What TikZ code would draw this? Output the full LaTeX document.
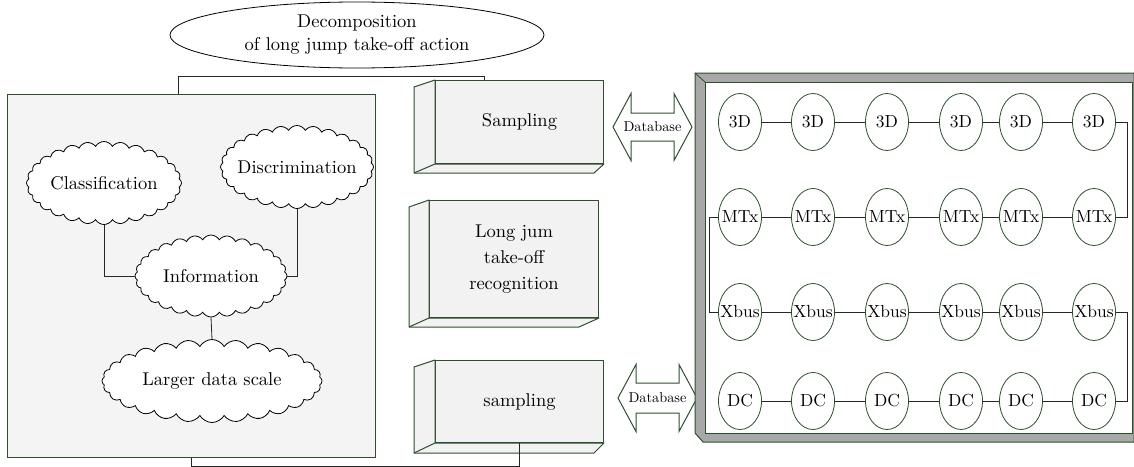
\documentclass[tikz,border=0pt]{standalone}
\usepackage{fontspec}
\setmainfont{lmroman10-regular}[Extension=.otf]
\usetikzlibrary{shapes.symbols,shapes.geometric,calc}
\definecolor{dg}{HTML}{2E4F2E}
\definecolor{panel}{HTML}{F4F4F4}
\definecolor{boxfill}{HTML}{F2F2F2}
\definecolor{framegray}{HTML}{A8A8A8}
\newcommand{\zbox}[1]{\makebox[0pt]{#1}}
\begin{document}
\begin{tikzpicture}[x=1pt,y=-1pt,
  main/.style={font=\fontsize{18.5}{24}\selectfont},
  cl/.style={cloud, cloud puffs=28, cloud puff arc=120, draw=black, fill=white, line width=0.8pt, main, inner sep=0pt},
  bn/.style={ellipse, draw=dg, fill=white, line width=0.8pt, minimum width=43, minimum height=57, inner sep=0pt, font=\fontsize{17.5}{20}\selectfont},
  conn/.style={draw=black!85, line width=0.8pt},
  face/.style={draw=dg, fill=boxfill, line width=1pt, line join=round},
  arr/.style={draw=dg, line width=1pt, line join=miter},
  dbtext/.style={font=\fontsize{14.3}{16}\selectfont, inner sep=0pt},
]
\useasboundingbox (0,0) rectangle (1134,466);

% top ellipse
\node[ellipse, draw=black, line width=0.8pt, minimum width=374, minimum height=66, inner sep=0pt, align=center, font=\fontsize{18.5}{23}\selectfont] (top) at (357,35) {Decomposition\\of long jump take-off action};

% left panel
\node[draw=dg, fill=panel, line width=1pt, anchor=north west, minimum width=368, minimum height=363, inner sep=0pt] (lp) at (7,94) {};

\node[cl, minimum width=155, minimum height=83] (cls) at (104,183) {\zbox{Classification}};
\node[cl, minimum width=153, minimum height=83] (dis) at (297,167) {\zbox{Discrimination}};
\node[cl, minimum width=152, minimum height=82] (inf) at (211,276) {\zbox{Information}};
\node[cl, minimum width=220, minimum height=83] (lds) at (212,381) {\zbox{Larger data scale}};

\draw[conn] (cls.south) |- (inf.west);
\draw[conn] (dis.south) |- (inf.east);
\draw[conn] (inf.south) -- (lds.north);

% 3D boxes
\node[face, minimum width=168, minimum height=83, anchor=north west, inner sep=0pt, main] (s1) at (435,80) {Sampling};
\draw[face] (s1.north west) -- ++(-21,7) -- ($(s1.south west)+(-21,9)$) -- ($(s1.south east)+(-10,9)$) -- (s1.south east) -- (s1.south west) -- cycle;
\draw[face] (s1.south west) -- ++(-21,9);

\node[face, minimum width=169, minimum height=117, anchor=north west, inner sep=0pt, align=center, font=\fontsize{18.5}{26}\selectfont] (lj) at (429,200) {Long jum\\take-off\\recognition};
\draw[face] (lj.north west) -- ++(-20,7) -- ($(lj.south west)+(-20,9)$) -- ($(lj.south east)+(-20,9)$) -- (lj.south east) -- (lj.south west) -- cycle;
\draw[face] (lj.south west) -- ++(-20,9);

\node[face, minimum width=168, minimum height=82, anchor=north west, inner sep=0pt, main] (s2) at (435,360) {sampling};
\draw[face] (s2.north west) -- ++(-21,7) -- ($(s2.south west)+(-21,10)$) -- ($(s2.south east)+(-10,10)$) -- (s2.south east) -- (s2.south west) -- cycle;
\draw[face] (s2.south west) -- ++(-21,10);

% brackets
\draw[conn] ([xshift=171pt]lp.north west) -- ++(0,-18) -| ([xshift=49pt]s1.north west);
\draw[conn] ([xshift=184pt]lp.south west) -- ++(0,8) -| ([xshift=84pt]s2.south west);

% database arrows
\node[dbtext] (db1) at (652.5,127) {Database};
\draw[arr] ($(db1)+(-39.5,0)$) -- ++(18,-33.5) -- ++(0,19.5) -- ++(43,0) -- ++(0,-19.5) -- ++(18,33.5) -- ++(-18,33.5) -- ++(0,-19.5) -- ++(-43,0) -- ++(0,19.5) -- cycle;
\node[dbtext] (db2) at (657.5,398) {Database};
\draw[arr] ($(db2)+(-39.5,0)$) -- ++(18,-33.5) -- ++(0,18.5) -- ++(43,0) -- ++(0,-18.5) -- ++(18,33.5) -- ++(-18,33.5) -- ++(0,-18.5) -- ++(-43,0) -- ++(0,18.5) -- cycle;

% right frame
\draw[draw=dg, fill=framegray, line width=1pt] (695,73) -- (1134,73) -- (1134,442) -- (703,442) -- (695,433) -- cycle;
\node[draw=dg, fill=white, line width=1pt, anchor=north west, minimum width=427, minimum height=351, inner sep=0pt] (rp) at (705,82) {};
\draw[dg, line width=0.8pt] (695,73) -- (rp.north west);

\foreach \t/\yy [count=\r] in {3D/122, MTx/217, Xbus/312, DC/401} {
  \foreach \xx [count=\c] in {740,813,887,961,1021,1094} {
    \node[bn] (n-\r-\c) at (\xx,\yy) {\zbox{\t}};
  }
  \foreach \a/\b in {1/2,2/3,3/4,4/5,5/6} {
    \draw[conn] (n-\r-\a) -- (n-\r-\b);
  }
}
\draw[conn] (n-1-6.east) -- ++(11,0) |- (n-2-6.east);
\draw[conn] (n-2-1.west) -- ++(-9,0) |- (n-3-1.west);
\draw[conn] (n-3-6.east) -- ++(11,0) |- (n-4-6.east);
\end{tikzpicture}
\end{document}
